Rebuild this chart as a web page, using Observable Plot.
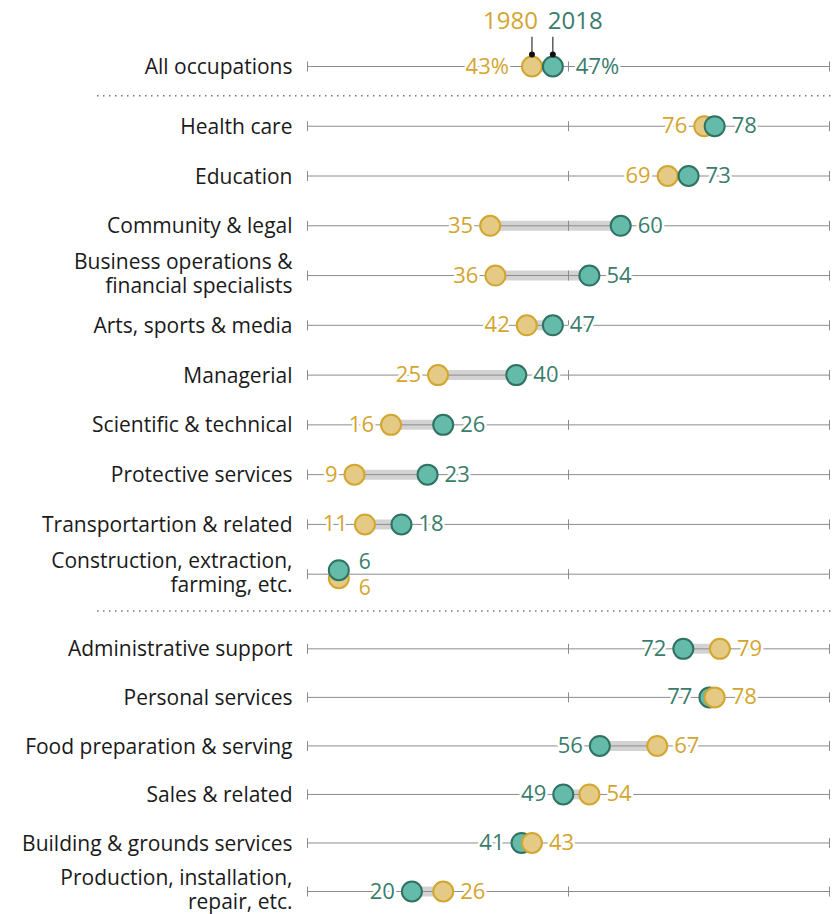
<!DOCTYPE html>
<html><head><meta charset="utf-8">
<script src="https://cdn.jsdelivr.net/npm/d3@7"></script>
<script src="https://cdn.jsdelivr.net/npm/@observablehq/plot@0.6"></script>
<style>body{margin:0;background:#fff}</style>
</head><body><div id="chart"></div>
<script>
const categories = [
  "All occupations",
  "Health care",
  "Education",
  "Community & legal",
  "Business operations &\nfinancial specialists",
  "Arts, sports & media",
  "Managerial",
  "Scientific & technical",
  "Protective services",
  "Transportartion & related",
  "Construction, extraction,\nfarming, etc.",
  "Administrative support",
  "Personal services",
  "Food preparation & serving",
  "Sales & related",
  "Building & grounds services",
  "Production, installation,\nrepair, etc."
];
const v1980 = [43, 76, 69, 35, 36, 42, 25, 16, 9, 11, 6, 79, 78, 67, 54, 43, 26];
const v2018 = [47, 78, 73, 60, 54, 47, 40, 26, 23, 18, 6, 72, 77, 56, 49, 41, 20];
const groups = [0, 1, 1, 1, 1, 1, 1, 1, 1, 1, 1, 2, 2, 2, 2, 2, 2];
const years = ["1980", "2018"];
const xTicks = [0, 50, 100];

const GOLD_FILL = "#e4ca84", GOLD_STROKE = "#d2a62f", GOLD_TEXT = "#d4a530";
const TEAL_FILL = "#64bbaa", TEAL_STROKE = "#2f7262", TEAL_TEXT = "#3a7d6c";
const FONT = "'Open Sans', 'Liberation Sans', sans-serif";

// row layout (group gaps)
const pos = [];
groups.forEach((g, i) => {
  if (i === 0) pos.push(0);
  else if (g !== groups[i - 1]) pos.push(pos[i - 1] + (g === 1 ? 1.2 : 1.5));
  else pos.push(pos[i - 1] + (g === 2 ? 0.975 : 1));
});
const rows = categories.map((c, i) => ({cat: c, a: v1980[i], b: v2018[i], pos: pos[i], first: i === 0, tie: v1980[i] === v2018[i], multi: c.includes("\n")}));
const seps = [];
groups.forEach((g, i) => { if (i > 0 && g !== groups[i - 1]) seps.push((pos[i] + pos[i - 1]) / 2); });

const dots = [];
const labels = [];
rows.forEach(r => {
  const d80 = {year: years[0], value: r.a, pos: r.pos, fill: GOLD_FILL, stroke: GOLD_STROKE, color: GOLD_TEXT, first: r.first, tie: r.tie};
  const d18 = {year: years[1], value: r.b, pos: r.pos, fill: TEAL_FILL, stroke: TEAL_STROKE, color: TEAL_TEXT, first: r.first, tie: r.tie};
  // higher value drawn last; ties: 2018 on top
  if (r.a > r.b) dots.push(d18, d80); else dots.push(d80, d18);
  const lo = r.a <= r.b ? d80 : d18, hi = r.a <= r.b ? d18 : d80;
  const suf = r.first ? "%" : "";
  if (r.tie) {
    labels.push({...d18, text: String(d18.value), side: "tieTop"});
    labels.push({...d80, text: String(d80.value), side: "tieBottom"});
  } else {
    labels.push({...lo, text: lo.value + suf, side: "left"});
    labels.push({...hi, text: hi.value + suf, side: "right"});
  }
});
const tickData = rows.flatMap(r => xTicks.map(x => ({x, pos: r.pos})));

const tickSymbol = {draw(ctx, size) { const h = Math.sqrt(size / Math.PI); ctx.moveTo(0, -h); ctx.lineTo(0, h); }};

const VAL = {fontSize: 22, stroke: "white", strokeWidth: 5};
const CAT = {frameAnchor: "left", textAnchor: "end", dx: -15, fontSize: 21, lineHeight: 1.13, fill: "#1a1a1a"};
const yMax = pos[pos.length - 1];
const chart = Plot.plot({
  width: 835,
  height: 914,
  marginLeft: 307,
  marginRight: 6,
  marginTop: 0,
  marginBottom: 0,
  x: {domain: [xTicks[0], xTicks[2]], axis: null},
  y: {domain: [0, yMax], range: [66, 891], axis: null},
  color: {type: "identity"},
  style: {fontFamily: FONT, fontSize: "21px", background: "white"},
  marks: [
    // band between values
    Plot.ruleY(rows, {y: "pos", x1: "a", x2: "b", stroke: "#d3d3d3", strokeWidth: 10}),
    // axis line per row
    Plot.ruleY(rows, {y: "pos", stroke: "#8c8c8c", strokeWidth: 1}),
    Plot.dot(tickData, {x: "x", y: "pos", r: 5, symbol: tickSymbol, stroke: "#8c8c8c", fill: "none", strokeWidth: 1}),
    // category labels
    Plot.text(rows.filter(d => !d.multi), {y: "pos", text: "cat", ...CAT}),
    Plot.text(rows.filter(d => d.multi), {y: "pos", text: "cat", dy: -2, ...CAT}),
    // value labels (non-first rows)
    Plot.text(labels.filter(d => d.side === "left" && !d.first), {x: "value", y: "pos", text: "text", fill: "color", textAnchor: "end", dx: -17, ...VAL}),
    Plot.text(labels.filter(d => d.side === "right" && !d.first), {x: "value", y: "pos", text: "text", fill: "color", textAnchor: "start", dx: 17, ...VAL}),
    Plot.text(labels.filter(d => d.side === "left" && d.first), {x: "value", y: "pos", text: "text", fill: "color", textAnchor: "end", dx: -23, ...VAL}),
    Plot.text(labels.filter(d => d.side === "right" && d.first), {x: "value", y: "pos", text: "text", fill: "color", textAnchor: "start", dx: 23, ...VAL}),
    Plot.text(labels.filter(d => d.side === "tieTop"), {x: "value", y: "pos", text: "text", fill: "color", textAnchor: "start", fontSize: 21, dx: 20, dy: -12}),
    Plot.text(labels.filter(d => d.side === "tieBottom"), {x: "value", y: "pos", text: "text", fill: "color", textAnchor: "start", fontSize: 21, dx: 20, dy: 14}),
    // dots
    Plot.dot(dots.filter(d => !d.tie), {x: "value", y: "pos", r: 10, fill: "fill", stroke: "stroke", strokeWidth: 2}),
    Plot.dot(dots.filter(d => d.tie && d.year === years[0]), {x: "value", y: "pos", r: 10, fill: "fill", stroke: "stroke", strokeWidth: 2, dy: 4}),
    Plot.dot(dots.filter(d => d.tie && d.year === years[1]), {x: "value", y: "pos", r: 10, fill: "fill", stroke: "stroke", strokeWidth: 2, dy: -4}),
    // header annotations on first row
    Plot.ruleX(dots.filter(d => d.first), {x: "value", y1: d => d.pos - 0.59, y2: d => d.pos - 0.24, stroke: "#333", strokeWidth: 1.2}),
    Plot.dot(dots.filter(d => d.first), {x: "value", y: d => d.pos - 0.24, r: 3, fill: "#111"}),
    Plot.text(dots.filter(d => d.first && d.year === years[0]), {x: "value", y: "pos", text: "year", fill: "color", textAnchor: "end", dx: 6, dy: -45, fontSize: 24}),
    Plot.text(dots.filter(d => d.first && d.year === years[1]), {x: "value", y: "pos", text: "year", fill: "color", textAnchor: "start", dx: -5, dy: -45, fontSize: 24})
  ]
});
document.getElementById("chart").appendChild(chart);

// dotted separators across the full width
const ys = chart.scale("y");
const svg = d3.select(chart);
svg.selectAll("line.sep").data(seps).join("line")
  .attr("class", "sep")
  .attr("x1", 97).attr("x2", 833)
  .attr("y1", d => ys.apply(d)).attr("y2", d => ys.apply(d))
  .attr("stroke", "#777").attr("stroke-width", 1.5).attr("stroke-dasharray", "1.5,4.5");
</script>
</body></html>
